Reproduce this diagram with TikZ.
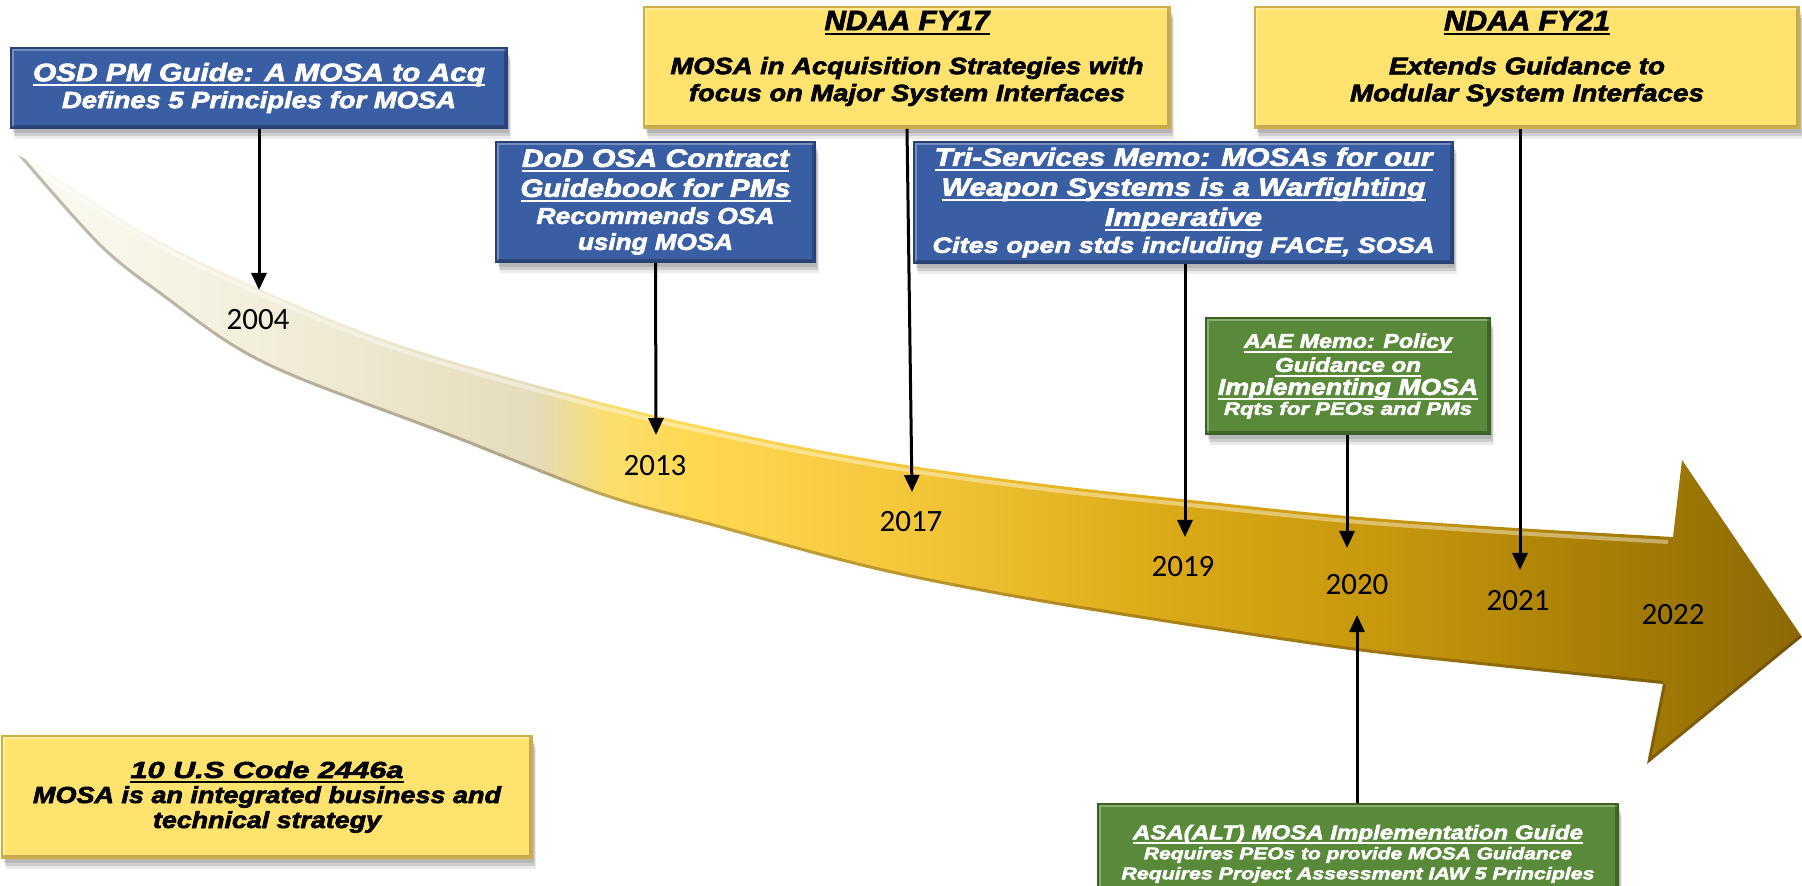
\documentclass[tikz,border=0pt]{standalone}
\usepackage{fontspec}
\usepackage{graphicx}
\usetikzlibrary{arrows.meta,shadows}
\newfontfamily\bx[UprightFont={* Bold Italic}, FakeBold=2.5]{Liberation Sans}
\newfontfamily\yrfont{Carlito}
\newcommand\uline[1]{\leavevmode\setbox0\hbox{#1}\rlap{\vrule height -1.5pt depth 2.4pt width \wd0}\box0}
\newcommand\fitline[3]{\resizebox{#2pt}{\height}{\fontsize{#1}{#1}\selectfont #3}}
\definecolor{boxblue}{RGB}{58,94,163}
\definecolor{boxblueD}{RGB}{40,66,120}
\definecolor{boxyel}{RGB}{255,227,110}
\definecolor{boxyelD}{RGB}{205,175,70}
\definecolor{boxgrn}{RGB}{88,138,58}
\definecolor{boxgrnD}{RGB}{58,98,36}
\definecolor{c0}{RGB}{252,251,244}
\definecolor{c1}{RGB}{242,238,218}
\definecolor{c2}{RGB}{228,220,186}
\definecolor{c3}{RGB}{250,222,110}
\definecolor{c4}{RGB}{255,216,80}
\definecolor{c5}{RGB}{245,200,60}
\definecolor{c6}{RGB}{222,172,25}
\definecolor{c7}{RGB}{198,150,12}
\definecolor{c8}{RGB}{170,128,5}
\definecolor{c9}{RGB}{140,105,5}
\pgfdeclarehorizontalshading{bandshade}{100bp}{color(0bp)=(c0); color(25bp)=(c0); color(32bp)=(c1); color(39.5bp)=(c2); color(41.5bp)=(c3); color(44bp)=(c4); color(49.5bp)=(c5); color(56.5bp)=(c6); color(63.5bp)=(c7); color(69bp)=(c8); color(75bp)=(c9); color(100bp)=(c9)}
\tikzset{
  box/.style={rectangle, inner sep=2pt, align=center, line width=0.8pt,
    font=\bx,
    general shadow={shadow xshift=1pt, shadow yshift=-2.5pt, fill=black, opacity=0.12},
    general shadow={shadow xshift=1.5pt, shadow yshift=-4pt, fill=black, opacity=0.12},
    general shadow={shadow xshift=2pt, shadow yshift=-5.5pt, fill=black, opacity=0.08},
    path picture={
      \draw[white, opacity=0.3, line width=3pt] (path picture bounding box.south west) -- (path picture bounding box.north west) -- (path picture bounding box.north east);
      \draw[black, opacity=0.25, line width=3pt] (path picture bounding box.north east) -- (path picture bounding box.south east) -- (path picture bounding box.south west);
    }},
  bluebox/.style={box, fill=boxblue, draw=boxblueD, text=white},
  yelbox/.style={box, fill=boxyel, draw=boxyelD, text=black},
  grnbox/.style={box, fill=boxgrn, draw=boxgrnD, text=white},
  yearlbl/.style={font=\yrfont\fontsize{15.5}{16}\selectfont, text=black, inner sep=0pt},
  conn/.style={line width=1.5pt, -{Triangle[length=8.5pt,width=7.5pt]}}
}
\begin{document}
\begin{tikzpicture}[x=0.5pt,y=-0.5pt]
\useasboundingbox (0,0) rectangle (1802,886);
% curved timeline arrow
\def\bandpath{plot[smooth, tension=0.55] coordinates {(18,155) (67,184) (150,236) (260,289) (400,345) (600,402) (772,441) (912,466) (1060,486) (1200,501) (1347,516) (1500,527) (1673,537)}
  -- (1682,460) -- (1802,637) -- (1647,764) -- (1663,684)
  -- plot[smooth, tension=0.55] coordinates {(1663,684) (1500,667) (1350,650) (1150,620) (1000,595) (868,568) (715,527) (600,495) (446,435) (300,380) (233,347) (167,300) (100,247) (18,155)} -- cycle}
\shade[shading=bandshade] \bandpath;
\begin{scope}
\clip \bandpath;
\draw[white, opacity=0.4, line width=2pt] plot[smooth, tension=0.55] coordinates {(40,172) (150,241) (260,294) (400,350) (600,407) (772,446) (912,471) (1060,491) (1200,506) (1347,521) (1500,532) (1668,542)};
\draw[black!70!brown, opacity=0.3, line width=3pt] plot[smooth, tension=0.55] coordinates {(1663,684) (1500,667) (1350,650) (1150,620) (1000,595) (868,568) (715,527) (600,495) (446,435) (300,380) (233,347) (167,300) (100,247) (18,155)};
\draw[black!70!brown, opacity=0.3, line width=3pt] (1663,684) -- (1647,764) -- (1802,637);
\end{scope}

% boxes
\node[bluebox, minimum width=248pt, minimum height=40pt] (osd) at (259,88)
  {\fitline{12.6}{226}{\uline{OSD PM Guide: A MOSA to Acq}}\\[1.5pt]\fitline{11.8}{197}{Defines 5 Principles for MOSA}};
\node[bluebox, minimum width=159.5pt, minimum height=60pt] (dod) at (655.5,202)
  {\fitline{12.6}{133.5}{\uline{DoD OSA Contract}}\\[3pt]\fitline{12.6}{135}{\uline{Guidebook for PMs}}\\[1.5pt]\fitline{11.5}{119}{Recommends OSA}\\[1pt]\fitline{11.5}{77.5}{using MOSA}};
\node[yelbox, minimum width=263pt, minimum height=58.5pt] (fy17) at (907,67.5)
  {\fitline{14}{82.5}{\uline{NDAA FY17}}\\[10pt]\fitline{11.8}{236.5}{MOSA in Acquisition Strategies with}\\[1.5pt]\fitline{11.8}{218}{focus on Major System Interfaces}\rule[-11.5pt]{0pt}{1pt}};
\node[bluebox, minimum width=269.5pt, minimum height=60.5pt] (tri) at (1183.5,202.5)
  {\fitline{12.6}{249}{\uline{Tri-Services Memo: MOSAs for our}}\\[3pt]\fitline{12.6}{242}{\uline{Weapon Systems is a Warfighting}}\\[3pt]\fitline{12.6}{78.5}{\uline{Imperative}}\\[1.5pt]\fitline{11}{251}{Cites open stds including FACE, SOSA}};
\node[yelbox, minimum width=272pt, minimum height=58.5pt] (fy21) at (1527,67.5)
  {\fitline{14}{83}{\uline{NDAA FY21}}\\[10pt]\fitline{12}{138}{Extends Guidance to}\\[1.5pt]\fitline{12}{177}{Modular System Interfaces}\rule[-11.5pt]{0pt}{1pt}};
\node[grnbox, minimum width=142pt, minimum height=58pt] (aae) at (1348,376)
  {\fitline{10}{104}{\uline{AAE Memo: Policy}}\\[0pt]\fitline{10}{73}{\uline{Guidance on}}\\[-0.5pt]\fitline{11.5}{130}{\uline{Implementing MOSA}}\\[-2pt]\fitline{9}{124}{Rqts for PEOs and PMs}};
\node[grnbox, minimum width=260pt, minimum height=50pt, anchor=north, inner ysep=4pt] (asa) at (1358,803)
  {\fitline{10}{225}{\uline{ASA(ALT) MOSA Implementation Guide}}\\[-2pt]\fitline{8.5}{214}{Requires PEOs to provide MOSA Guidance}\\[-2pt]\fitline{8.5}{236.5}{Requires Project Assessment IAW 5 Principles}};
\node[yelbox, minimum width=265pt, minimum height=61pt] (code) at (267,797)
  {\fitline{11.6}{136.5}{\uline{10 U.S Code 2446a}}\\[0.5pt]\fitline{11.6}{234}{MOSA is an integrated business and}\\[0.5pt]\fitline{11.6}{114}{technical strategy}};

% year labels
\node[yearlbl] (y2004) at (258,320) {2004};
\node[yearlbl] (y2013) at (655,466) {2013};
\node[yearlbl] (y2017) at (911,522) {2017};
\node[yearlbl] (y2019) at (1183,567) {2019};
\node[yearlbl] (y2020) at (1357,585) {2020};
\node[yearlbl] (y2021) at (1518,601) {2021};
\node[yearlbl] (y2022) at (1673,615) {2022};

% arrow tips
\coordinate (t2004) at (259,290);
\coordinate (t2013) at (656,435);
\coordinate (t2017) at (912,492);
\coordinate (t2019) at (1185,537);
\coordinate (t2020) at (1347,548);
\coordinate (t2021) at (1520,570);
\coordinate (t2020b) at (1357,615);

\draw[conn] (osd.south) -- (t2004);
\draw[conn] (dod.south) -- (t2013);
\draw[conn] (fy17.south) -- (t2017);
\draw[conn] (tri.south -| t2019) -- (t2019);
\draw[conn] (aae.south -| t2020) -- (t2020);
\draw[conn] (fy21.south -| t2021) -- (t2021);
\draw[conn] (asa.north -| t2020b) -- (t2020b);
\end{tikzpicture}
\end{document}
